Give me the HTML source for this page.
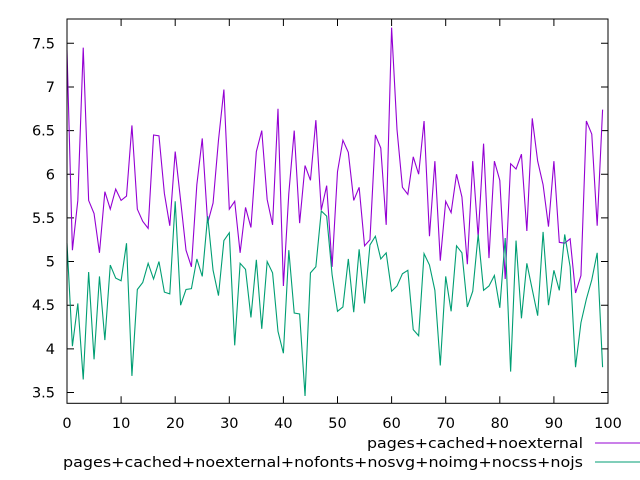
<!DOCTYPE html>
<html><head><meta charset="utf-8"><style>
html,body{margin:0;padding:0;background:#fff;}
svg{display:block;font-family:"DejaVu Sans","Liberation Sans",sans-serif;}
</style></head><body>
<svg id="chart" width="640" height="480" viewBox="0 0 640 480" xmlns="http://www.w3.org/2000/svg"></svg>
<script>
const xTicks = [0,10,20,30,40,50,60,70,80,90,100];
const yTicks = [3.5,4,4.5,5,5.5,6,6.5,7,7.5];
const yTickLabels = ["3.5","4","4.5","5","5.5","6","6.5","7","7.5"];
const seriesNames = ["pages+cached+noexternal","pages+cached+noexternal+nofonts+nosvg+noimg+nocss+nojs"];
const seriesA = [7.42,5.13,5.70,7.45,5.70,5.55,5.10,5.80,5.60,5.83,5.70,5.75,6.56,5.60,5.46,5.38,6.45,6.44,5.78,5.41,
6.26,5.70,5.13,4.94,5.88,6.41,5.44,5.67,6.39,6.97,5.60,5.69,5.10,5.62,5.39,6.26,6.50,5.71,5.42,6.75,
4.72,5.78,6.50,5.44,6.10,5.93,6.62,5.59,5.87,4.94,6.03,6.39,6.25,5.70,5.85,5.18,5.25,6.45,6.30,5.42,
7.68,6.51,5.85,5.77,6.20,6.00,6.61,5.29,6.15,5.01,5.69,5.56,6.00,5.74,4.97,6.15,5.28,6.35,5.04,6.15,
5.93,4.80,6.12,6.06,6.23,5.35,6.64,6.15,5.88,5.40,6.15,5.22,5.21,5.26,4.64,4.84,6.61,6.46,5.41,6.74];
const seriesB = [5.21,4.03,4.52,3.65,4.88,3.88,4.83,4.10,4.96,4.81,4.78,5.21,3.69,4.68,4.76,4.98,4.80,5.00,4.65,4.63,
5.69,4.50,4.68,4.69,5.03,4.83,5.52,4.90,4.61,5.24,5.33,4.04,4.98,4.91,4.36,5.02,4.23,5.00,4.87,4.20,
3.95,5.13,4.41,4.40,3.46,4.87,4.94,5.58,5.52,4.85,4.43,4.48,5.03,4.42,5.14,4.52,5.19,5.29,5.03,5.10,
4.66,4.72,4.86,4.90,4.22,4.15,5.09,4.96,4.67,3.81,4.83,4.43,5.18,5.10,4.48,4.66,5.31,4.67,4.72,4.84,
4.47,5.27,3.74,5.24,4.35,4.98,4.68,4.38,5.34,4.50,4.90,4.67,5.31,4.94,3.79,4.30,4.57,4.79,5.10,3.79];

const NS="http://www.w3.org/2000/svg";
const svg=document.getElementById('chart');
const L=67,R=608,T=19,B=403.3;
function xs(v){return L+(v-0)*(R-L)/100;}
function ys(v){return 43.3+(7.5-v)*87.3;}
function mk(tag,attrs,parent){const e=document.createElementNS(NS,tag);for(const k in attrs)e.setAttribute(k,attrs[k]);(parent||svg).appendChild(e);return e;}

const axes=mk('g',{});


yTicks.forEach((t,i)=>{
  const y=ys(t);
  const tk=mk('path',{d:`M${L},${y}H${L+7}M${R},${y}H${R-7}`,stroke:'#000','stroke-width':1,fill:'none'},axes);
  
  
  const lb=mk('text',{x:55,y:y+5,'text-anchor':'end','font-size':'14.5',fill:'#000'},axes);
  lb.textContent=yTickLabels[i];
  
  
});
xTicks.forEach(t=>{
  const x=xs(t);
  const tk=mk('path',{d:`M${x},${B}V${B-7}M${x},${T}V${T+7}`,stroke:'#000','stroke-width':1,fill:'none'},axes);
  
  
  const lb=mk('text',{x:x,y:428,'text-anchor':'middle','font-size':'14.5',fill:'#000'},axes);
  lb.textContent=String(t);
  
  
});

function drawSeries(vals,color,name){
  const d=vals.map((v,i)=>(i?'L':'M')+xs(i).toFixed(2)+','+ys(v).toFixed(2)).join('');
  const p=mk('path',{d:d,stroke:color,'stroke-width':1.1,fill:'none','stroke-linejoin':'miter'});
  
  
}
drawSeries(seriesA,'#9400d3','series-noexternal-line');
drawSeries(seriesB,'#009e73','series-stripped-line');

const frame=mk('rect',{x:L,y:T,width:R-L,height:B-T,fill:'none',stroke:'#000','stroke-width':1});



const legend=mk('g',{});


const lcol=['#9400d3','#009e73'];
const ly=[443,462];
const lstart=[367,63];
seriesNames.forEach((n,i)=>{
  const t=mk('text',{x:583,y:ly[i]+5,'text-anchor':'end','font-size':'14.5',fill:'#000',textLength:583-lstart[i],lengthAdjust:'spacingAndGlyphs'},legend);
  t.textContent=n;
  
  
  const s=mk('line',{x1:595,x2:640,y1:ly[i],y2:ly[i],stroke:lcol[i],'stroke-width':1.1},legend);
  
  
});
</script>
</body></html>
